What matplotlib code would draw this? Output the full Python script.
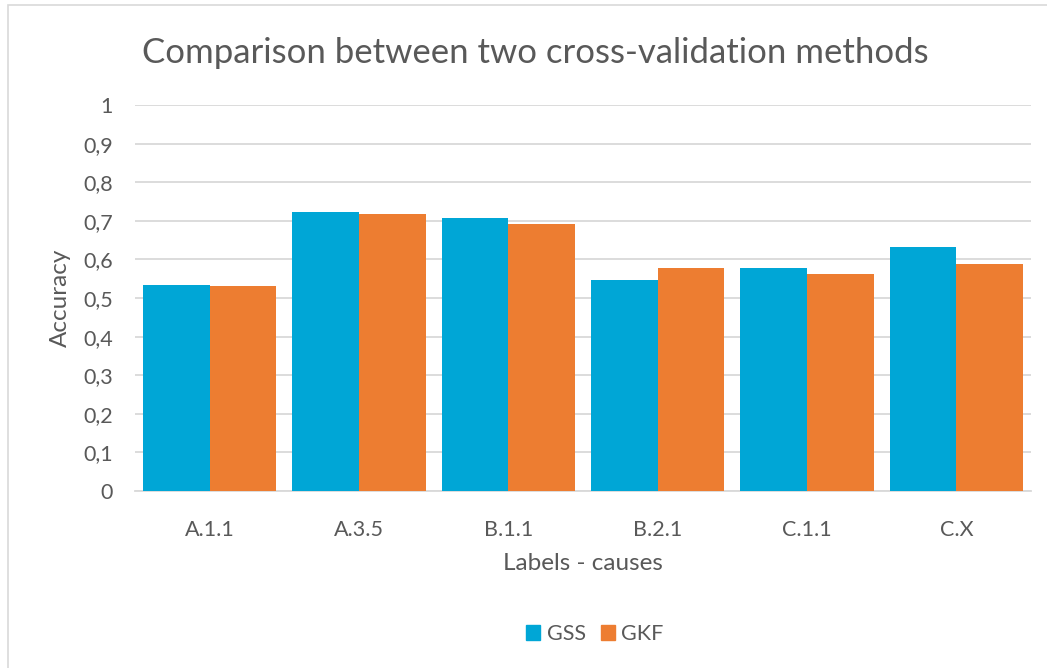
import matplotlib.pyplot as plt
from matplotlib.patches import Patch, Rectangle
import numpy as np

categories = ["A.1.1", "A.3.5", "B.1.1", "B.2.1", "C.1.1", "C.X"]
gss = [0.534, 0.724, 0.706, 0.546, 0.579, 0.631]
gkf = [0.531, 0.718, 0.692, 0.579, 0.563, 0.588]
yticks = [0, 0.1, 0.2, 0.3, 0.4, 0.5, 0.6, 0.7, 0.8, 0.9, 1]
ytick_labels = ["0", "0,1", "0,2", "0,3", "0,4", "0,5", "0,6", "0,7", "0,8", "0,9", "1"]

BLUE = "#00A6D6"
ORANGE = "#ED7D31"
TEXT = "#595959"
GRID = "#D9D9D9"

plt.rcParams["font.family"] = ["Lato", "DejaVu Sans"]

W, H = 1047, 668
fig = plt.figure(figsize=(W / 100, H / 100), dpi=100)

# outer chart border (only top/left visible in the reference)
fig.patches.append(Rectangle((8 / W, -0.1), 1.2, 1 - 5 / H + 0.1, transform=fig.transFigure,
                             fill=False, edgecolor=GRID, linewidth=1.2))

ax = fig.add_axes([135 / W, 1 - 491 / H, (1031 - 135) / W, (491 - 105) / H])
x = np.arange(len(categories))
w = 0.447
ax.bar(x - w / 2, gss, w, color=BLUE, label="GSS", zorder=3)
ax.bar(x + w / 2, gkf, w, color=ORANGE, label="GKF", zorder=3)

ax.set_xlim(-0.5, len(categories) - 0.5)
ax.set_ylim(0, 1)
ax.set_yticks(yticks)
ax.set_yticklabels(ytick_labels)
ax.set_xticks(x)
ax.set_xticklabels(categories)
ax.tick_params(axis="y", length=0, pad=16, labelsize=15.5, labelcolor=TEXT)
ax.tick_params(axis="x", length=0, pad=21, labelsize=15.5, labelcolor=TEXT)
ax.grid(axis="y", color=GRID, linewidth=1.3, zorder=0)
for s in ["top", "right", "left"]:
    ax.spines[s].set_visible(False)
ax.spines["bottom"].set_color(GRID)
ax.spines["bottom"].set_linewidth(1.3)

fig.text(535 / W, 1 - 53 / H, "Comparison between two cross-validation methods",
         ha="center", va="center", fontsize=25, color=TEXT)
fig.text(60 / W, 1 - 298 / H, "Accuracy", rotation=90, ha="center", va="center",
         fontsize=17.5, color=TEXT)
fig.text(583 / W, 1 - 563 / H, "Labels - causes", ha="center", va="center",
         fontsize=17.5, color=TEXT)

handles = [Patch(color=BLUE, label="GSS"), Patch(color=ORANGE, label="GKF")]
fig.legend(handles=handles, loc="center", bbox_to_anchor=(595 / W, 1 - 634 / H), ncol=2,
           frameon=False, fontsize=15.5, labelcolor=TEXT, handlelength=0.65, handleheight=0.65,
           handletextpad=0.3, columnspacing=0.7)

fig.savefig("out.png", dpi=100)
